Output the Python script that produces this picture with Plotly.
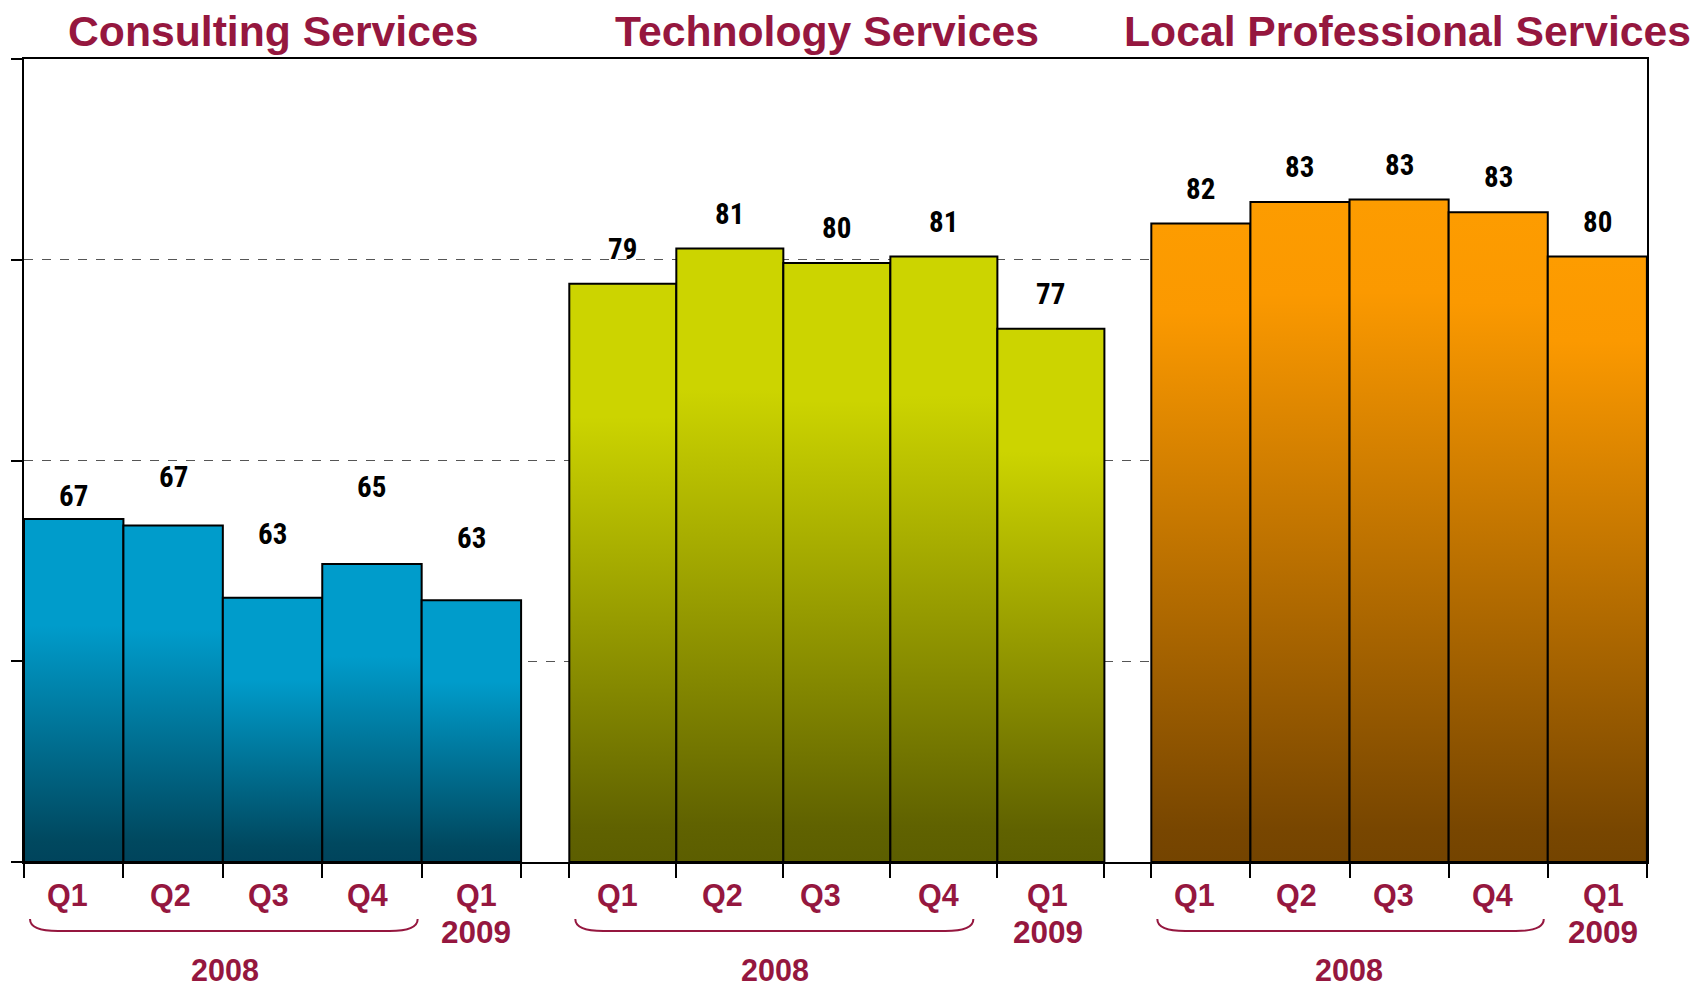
import plotly.graph_objects as go


# -------------------------------------------------
# Data
# -------------------------------------------------

segments = ["Consulting Services", "Technology Services", "Local Professional Services"]
quarters = ["Q1", "Q2", "Q3", "Q4", "Q1"]
years = ["2008", "2009"]

# bar heights as drawn (axis 0-100) and the index values printed above them
consulting_height = [42.7, 41.9, 32.9, 37.1, 32.6]
consulting_label = [67, 67, 63, 65, 63]

technology_height = [72.0, 76.4, 74.6, 75.4, 66.4]
technology_label = [79, 81, 80, 81, 77]

local_height = [79.5, 82.2, 82.5, 80.9, 75.4]
local_label = [82, 83, 83, 83, 80]

heights = [consulting_height, technology_height, local_height]
labels = [consulting_label, technology_label, local_label]


# -------------------------------------------------
# Layout helpers (pixel-like x axis)
# -------------------------------------------------

group_start = [0, 545.2, 1127.1]
bar_width = [99.4, 107.0, 99.1]
x_max = 1622.7
title_nudge = [0, -10, 8]
year_nudge = [2, -8, -1]
brace_trim = [4, 24, 4]

label_lift = [
    [23, 49, 64, 77, 62],
    [35, 35, 35, 35, 35],
    [35, 35, 35, 35, 35],
]

quarter_nudge = [
    [-6, -3, -4, -4, 5],
    [-5, -7, -16, -5, -3],
    [-6, -3, -6, -6, 6],
]

gradients = [
    [[0, "#00445C"], [0.06, "#00485F"], [0.69, "#009CCB"], [1, "#009CCB"]],
    [[0, "#5C5E00"], [0.06, "#606200"], [0.77, "#CCD400"], [1, "#CCD400"]],
    [[0, "#744400"], [0.05, "#784600"], [0.86, "#FB9900"], [1, "#FD9C00"]],
]

CRIMSON = "#95173F"
LABEL_FONT = ("Liberation Sans Narrow, Arial Narrow, Noto Sans Condensed, "
              "Roboto Condensed, DejaVu Sans Condensed, Liberation Sans")
PLOT_H = 803.0


def py(px):
    # pixel distance below the x axis -> paper y
    return -px / PLOT_H


fig = go.Figure()
annotations = []
shapes = []
tick_positions = []

for g in range(3):
    x0 = group_start[g]
    w = bar_width[g]

    for i, h in enumerate(heights[g]):
        left = x0 + i * w
        right = left + w
        tick_positions.append(left)
        if i == 4:
            tick_positions.append(right)

        fig.add_trace(
            go.Scatter(
                x=[left, left, right, right, left],
                y=[0, h, h, 0, 0],
                mode="lines",
                fill="toself",
                fillgradient=dict(
                    type="vertical",
                    colorscale=gradients[g],
                    start=0,
                    stop=h
                ),
                line=dict(color="black", width=2),
                hoverinfo="skip",
                showlegend=False
            )
        )

        center = left + w / 2

        annotations.append(dict(
            x=center, y=h, xref="x", yref="y",
            text=str(labels[g][i]),
            showarrow=False, yanchor="middle",
            yshift=label_lift[g][i],
            font=dict(family=LABEL_FONT, size=29, color="black", weight="bold")
        ))

        annotations.append(dict(
            x=center, y=0, xref="x", yref="paper",
            text="<b>" + quarters[i] + "</b>",
            showarrow=False, yanchor="middle", yshift=-33,
            xshift=quarter_nudge[g][i],
            font=dict(family="Liberation Sans, Arial", size=30.5, color=CRIMSON)
        ))

    # year labels
    annotations.append(dict(
        x=x0 + 4.5 * w, y=0, xref="x", yref="paper",
        text="<b>" + years[1] + "</b>",
        showarrow=False, yanchor="middle", yshift=-70,
        xshift=quarter_nudge[g][4],
        font=dict(family="Liberation Sans, Arial", size=31.5, color=CRIMSON)
    ))
    annotations.append(dict(
        x=x0 + 2 * w, y=0, xref="x", yref="paper",
        text="<b>" + years[0] + "</b>",
        showarrow=False, yanchor="middle", yshift=-108,
        xshift=year_nudge[g],
        font=dict(family="Liberation Sans, Arial", size=30.5, color=CRIMSON)
    ))

    # segment title
    annotations.append(dict(
        x=x0 + 2.5 * w + title_nudge[g], y=1, xref="x", yref="paper",
        text="<b>" + segments[g] + "</b>",
        showarrow=False, yanchor="middle", yshift=28,
        font=dict(family="Liberation Sans, Arial", size=42.7, color=CRIMSON)
    ))

    # brace under Q1-Q4 of 2008
    bx0 = x0 + 6
    bx1 = x0 + 4 * w - brace_trim[g]
    yt = py(57)
    yb = py(69)
    path = (
        f"M {bx0},{yt} Q {bx0},{yb} {bx0 + 28},{yb} "
        f"L {bx1 - 28},{yb} Q {bx1},{yb} {bx1},{yt}"
    )
    shapes.append(dict(
        type="path", path=path, xref="x", yref="paper",
        line=dict(color=CRIMSON, width=2)
    ))

fig.update_layout(
    width=1695,
    height=989,
    margin=dict(l=24, r=48, t=59, b=127),
    paper_bgcolor="white",
    plot_bgcolor="white",
    annotations=annotations,
    shapes=shapes,
    xaxis=dict(
        range=[0, x_max],
        showgrid=False,
        zeroline=False,
        showline=True,
        linecolor="black",
        linewidth=2,
        mirror=True,
        tickvals=tick_positions,
        ticks="outside",
        ticklen=14,
        tickwidth=1.5,
        tickcolor="black",
        showticklabels=False
    ),
    yaxis=dict(
        range=[0, 100],
        tickvals=[0, 25, 50, 75, 100],
        showgrid=True,
        gridcolor="#555555",
        gridwidth=1,
        griddash="dash",
        zeroline=False,
        showline=True,
        linecolor="black",
        linewidth=2,
        mirror=True,
        ticks="outside",
        ticklen=11,
        tickwidth=2,
        tickcolor="black",
        showticklabels=False
    )
)

# the page's default body margin would push the 1695x989 figure off the window
fig.write_html(
    "out.html",
    config={"displayModeBar": False},
    post_script="document.body.style.margin = '0';"
)
